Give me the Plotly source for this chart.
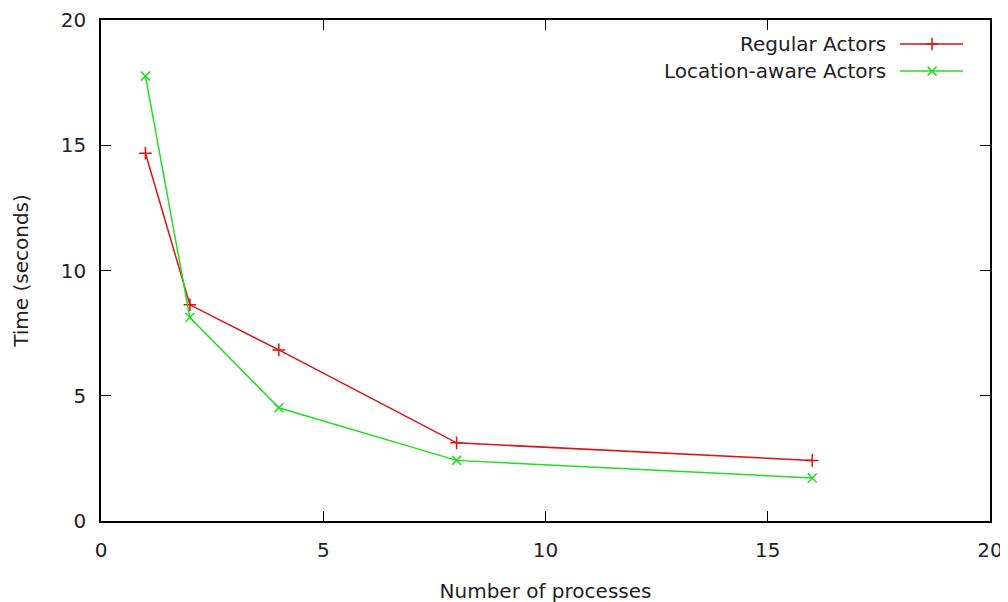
import plotly.graph_objects as go

processes = [1, 2, 4, 8, 16]
regular = [14.68, 8.63, 6.83, 3.12, 2.42]
location_aware = [17.76, 8.12, 4.52, 2.42, 1.72]
series_names = ["Regular Actors", "Location-aware Actors"]
colors = ["#dd1111", "#22dd22"]
symbols = ["cross-thin", "x-thin"]

FONT = "DejaVu Sans, Verdana, sans-serif"
FS = 20

fig = go.Figure()
for name, ys, c, s in zip(series_names, [regular, location_aware], colors, symbols):
    fig.add_trace(go.Scatter(
        x=processes, y=ys, mode="lines+markers", name=name,
        line=dict(color=c, width=1.5),
        marker=dict(symbol=s, size=9, color=c, line=dict(color=c, width=1.5)),
        showlegend=False))

# Legend keys (gnuplot style: text left of the sample) on an overlay axis
legend_y = [0.952, 0.898]
for name, c, s, ly in zip(series_names, colors, symbols, legend_y):
    fig.add_trace(go.Scatter(
        x=[0.8988, 0.9696], y=[ly, ly], mode="lines", xaxis="x2", yaxis="y2",
        line=dict(color=c, width=1.5), showlegend=False, hoverinfo="skip"))
    fig.add_trace(go.Scatter(
        x=[0.9348], y=[ly], mode="markers", xaxis="x2", yaxis="y2",
        marker=dict(symbol=s, size=9, color=c, line=dict(color=c, width=1.5)),
        showlegend=False, hoverinfo="skip"))
    fig.add_annotation(x=0.885, y=ly, xref="x2", yref="y2", text=name,
                       showarrow=False, xanchor="right", yanchor="middle",
                       font=dict(family=FONT, size=FS, color="#222222"))

axis_common = dict(showgrid=False, zeroline=False, showline=True, mirror="ticks",
                   linecolor="black", linewidth=1.5, ticks="inside", ticklen=10,
                   tickwidth=1, tickcolor="black", automargin=False,
                   tickfont=dict(family=FONT, size=FS, color="#222222"))

fig.update_layout(
    width=1008, height=602,
    margin=dict(l=93, r=26, t=12, b=89),
    paper_bgcolor="white", plot_bgcolor="white",
    xaxis=dict(range=[0, 20], tickvals=[0, 5, 10, 15, 20], ticklabelstandoff=10,
               title=dict(text="Number of processes", standoff=23,
                          font=dict(family=FONT, size=FS, color="#222222")),
               **axis_common),
    yaxis=dict(range=[0, 20], tickvals=[0, 5, 10, 15, 20], ticklabelstandoff=9,
               title=dict(text="Time (seconds)", standoff=27,
                          font=dict(family=FONT, size=FS, color="#222222")),
               **axis_common),
    xaxis2=dict(range=[0, 1], overlaying="x", visible=False),
    yaxis2=dict(range=[0, 1], overlaying="y", visible=False),
)

fig.write_html("out.html")
